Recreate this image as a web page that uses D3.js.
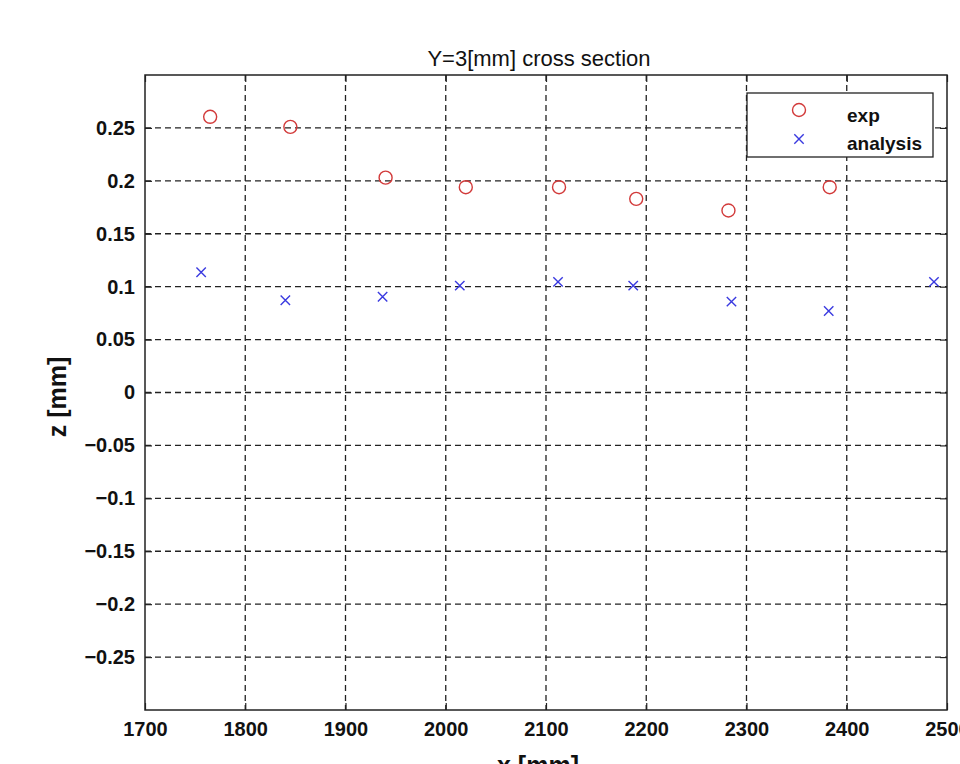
<!DOCTYPE html>
<html>
<head>
<meta charset="utf-8">
<script src="https://cdn.jsdelivr.net/npm/d3@7"></script>
<style>
  html, body { margin: 0; padding: 0; background: #fff; overflow: hidden; }
  svg { display: block; }
</style>
</head>
<body>
<script>
// ---- Data ----
const expX = [1765, 1845, 1940, 2020, 2113, 2190, 2282, 2383];
const expZ = [0.2605, 0.251, 0.203, 0.194, 0.194, 0.183, 0.172, 0.194];
const anaX = [1756, 1840, 1937, 2014, 2112, 2187, 2285, 2382, 2487];
const anaZ = [0.1136, 0.0872, 0.0905, 0.101, 0.1045, 0.101, 0.0859, 0.077, 0.1045];
const xTicks = [1700, 1800, 1900, 2000, 2100, 2200, 2300, 2400, 2500];
const yTicks = [-0.25, -0.2, -0.15, -0.1, -0.05, 0, 0.05, 0.1, 0.15, 0.2, 0.25];
const legendLabels = ["exp", "analysis"];
const titleText = "Y=3[mm] cross section";
const xLabel = "x [mm]";
const yLabel = "z [mm]";

const W = 960, H = 764;
const L = 145, R = 947, T = 75, B = 710;

const svg = d3.select("body").append("svg").attr("width", W).attr("height", H);
const x = d3.scaleLinear().domain([1700, 2500]).range([L, R]);
const y = d3.scaleLinear().domain([-0.3, 0.3]).range([B, T]);

const font = "'Liberation Sans', Arial, sans-serif";

// grid
const grid = svg.append("g").attr("stroke", "#222").attr("stroke-width", 1.3)
  .attr("stroke-dasharray", "6,4");
grid.selectAll("line.vx").data(xTicks.slice(1, -1)).enter().append("line")
  .attr("x1", d => x(d)).attr("x2", d => x(d)).attr("y1", T).attr("y2", B);
grid.selectAll("line.hy").data(yTicks).enter().append("line")
  .attr("y1", d => y(d)).attr("y2", d => y(d)).attr("x1", L).attr("x2", R);

// axes
const axB = d3.axisBottom(x).tickValues(xTicks).tickSizeInner(-7).tickSizeOuter(0).tickPadding(12)
  .tickFormat(d3.format("d"));
const axL = d3.axisLeft(y).tickValues(yTicks).tickSizeInner(-7).tickSizeOuter(0).tickPadding(10)
  .tickFormat(d => d === 0 ? "0" : d3.format("")(d).replace("-", "\u2212"));
const axT = d3.axisTop(x).tickValues(xTicks).tickSizeInner(-7).tickSizeOuter(0).tickFormat("");
const axR = d3.axisRight(y).tickValues(yTicks).tickSizeInner(-7).tickSizeOuter(0).tickFormat("");

function styleAxis(g) {
  g.select(".domain").remove();
  g.selectAll(".tick line").attr("stroke", "#222").attr("stroke-width", 1.2);
  g.selectAll("text").attr("fill", "#111").style("font-family", font)
    .style("font-size", "20px").style("font-weight", "bold");
}
svg.append("g").attr("transform", `translate(0,${B})`).call(axB).call(styleAxis);
svg.append("g").attr("transform", `translate(${L},0)`).call(axL).call(styleAxis);
svg.append("g").attr("transform", `translate(0,${T})`).call(axT).call(styleAxis);
svg.append("g").attr("transform", `translate(${R},0)`).call(axR).call(styleAxis);

// frame
svg.append("rect").attr("x", L).attr("y", T).attr("width", R - L).attr("height", B - T)
  .attr("fill", "none").attr("stroke", "#222").attr("stroke-width", 1.5);

// exp circles
svg.append("g").selectAll("circle").data(expX.map((d, i) => [d, expZ[i]])).enter().append("circle")
  .attr("cx", d => x(d[0])).attr("cy", d => y(d[1])).attr("r", 6.5)
  .attr("fill", "none").attr("stroke", "#d23a3a").attr("stroke-width", 1.4);

// analysis crosses
const s = 4.7;
const cross = svg.append("g").attr("stroke", "#3a3ae0").attr("stroke-width", 1.4);
anaX.forEach((d, i) => {
  const cx = x(d), cy = y(anaZ[i]);
  cross.append("path").attr("d", `M${cx - s},${cy - s}L${cx + s},${cy + s}M${cx - s},${cy + s}L${cx + s},${cy - s}`);
});

// title
svg.append("text").attr("x", 539).attr("y", 66).attr("text-anchor", "middle")
  .style("font-family", font).style("font-size", "22px").attr("fill", "#111").text(titleText);

// axis labels
svg.append("text").attr("x", 538).attr("y", 774).attr("text-anchor", "middle")
  .style("font-family", font).style("font-size", "25px").style("font-weight", "bold").attr("fill", "#111").text(xLabel);
svg.append("text").attr("transform", "translate(66,397) rotate(-90)").attr("text-anchor", "middle")
  .style("font-family", font).style("font-size", "25px").style("font-weight", "bold").attr("fill", "#111").text(yLabel);

// legend
const lg = svg.append("g");
lg.append("rect").attr("x", 747).attr("y", 93).attr("width", 186).attr("height", 64)
  .attr("fill", "#fff").attr("stroke", "#222").attr("stroke-width", 1.3);
lg.append("circle").attr("cx", 799).attr("cy", 110).attr("r", 6.5)
  .attr("fill", "none").attr("stroke", "#d23a3a").attr("stroke-width", 1.4);
lg.append("path").attr("d", `M${799 - s},${139 - s}L${799 + s},${139 + s}M${799 - s},${139 + s}L${799 + s},${139 - s}`)
  .attr("stroke", "#3a3ae0").attr("stroke-width", 1.4);
lg.selectAll("text").data(legendLabels).enter().append("text")
  .attr("x", 847).attr("y", (d, i) => 122 + i * 28)
  .style("font-family", font).style("font-size", "19px").style("font-weight", "bold").attr("fill", "#111")
  .text(d => d);
</script>
</body>
</html>
